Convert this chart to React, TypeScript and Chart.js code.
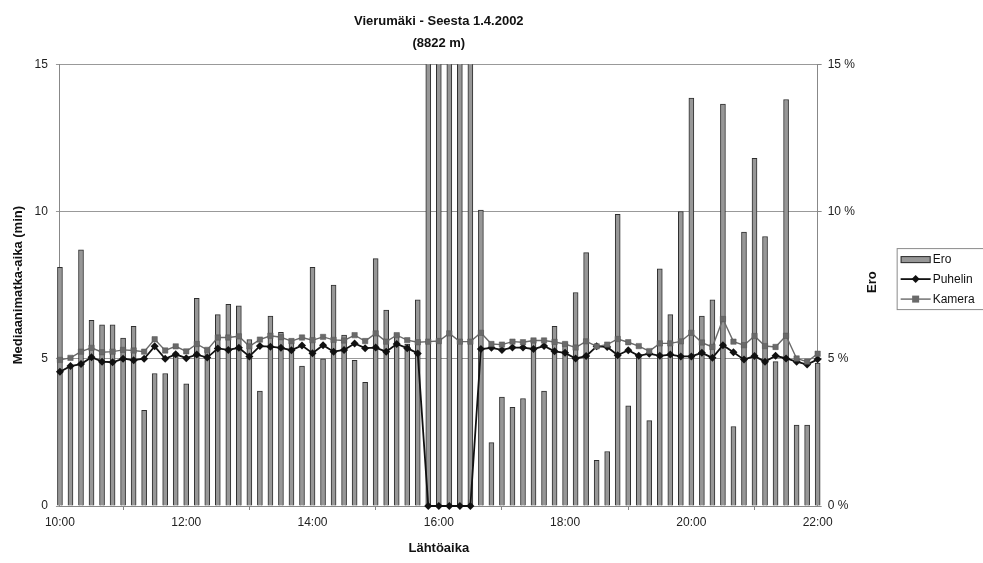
import React, { useEffect, useRef } from 'react';
import { Chart, registerables } from 'chart.js';

Chart.register(...registerables);

const times = [
  '10:00', '10:10', '10:20', '10:30', '10:40', '10:50',
  '11:00', '11:10', '11:20', '11:30', '11:40', '11:50',
  '12:00', '12:10', '12:20', '12:30', '12:40', '12:50',
  '13:00', '13:10', '13:20', '13:30', '13:40', '13:50',
  '14:00', '14:10', '14:20', '14:30', '14:40', '14:50',
  '15:00', '15:10', '15:20', '15:30', '15:40', '15:50',
  '16:00', '16:10', '16:20', '16:30', '16:40', '16:50',
  '17:00', '17:10', '17:20', '17:30', '17:40', '17:50',
  '18:00', '18:10', '18:20', '18:30', '18:40', '18:50',
  '19:00', '19:10', '19:20', '19:30', '19:40', '19:50',
  '20:00', '20:10', '20:20', '20:30', '20:40', '20:50',
  '21:00', '21:10', '21:20', '21:30', '21:40', '21:50',
  '22:00',
];

// Ero (%), right axis
const ero = [
  8.1, 4.75, 8.7, 6.3, 6.15, 6.15, 5.7, 6.1, 3.25, 4.5,
  4.5, 5.2, 4.15, 7.05, 5.3, 6.5, 6.85, 6.8, 5.65, 3.9,
  6.45, 5.9, 5.6, 4.75, 8.1, 5.0, 7.5, 5.8, 4.95, 4.2,
  8.4, 6.65, 5.85, 5.5, 7.0, 100, 100, 100, 100, 100,
  10.05, 2.15, 3.7, 3.35, 3.65, 5.65, 3.9, 6.1, 5.55, 7.25,
  8.6, 1.55, 1.85, 9.9, 3.4, 5.15, 2.9, 8.05, 6.5, 10.0,
  13.85, 6.45, 7.0, 13.65, 2.7, 9.3, 11.8, 9.15, 4.9, 13.8,
  2.75, 2.75, 4.85,
];

// Puhelin (min), left axis
const puhelin = [
  4.56, 4.75, 4.82, 5.05, 4.9, 4.88, 5.0, 4.95, 5.0, 5.42,
  5.0, 5.15, 5.02, 5.14, 5.04, 5.35, 5.3, 5.37, 5.08, 5.43,
  5.41, 5.37, 5.29, 5.45, 5.19, 5.46, 5.24, 5.3, 5.52, 5.36,
  5.38, 5.24, 5.5, 5.36, 5.18, 0, 0, 0, 0, 0,
  5.33, 5.37, 5.3, 5.38, 5.38, 5.33, 5.43, 5.25, 5.2, 5.01,
  5.09, 5.42, 5.4, 5.12, 5.29, 5.1, 5.17, 5.1, 5.14, 5.08,
  5.08, 5.2, 5.03, 5.46, 5.22, 4.97, 5.09, 4.9, 5.1, 5.01,
  4.9, 4.8, 4.98,
];

// Kamera (min), left axis
const kamera = [
  4.96, 5.03, 5.24, 5.37, 5.22, 5.24, 5.3, 5.28, 5.24, 5.66,
  5.28, 5.42, 5.25, 5.5, 5.3, 5.72, 5.72, 5.76, 5.42, 5.65,
  5.78, 5.73, 5.6, 5.72, 5.63, 5.74, 5.64, 5.62, 5.8, 5.6,
  5.86, 5.58, 5.8, 5.63, 5.56, 5.58, 5.6, 5.86, 5.58, 5.58,
  5.88, 5.5, 5.48, 5.58, 5.56, 5.62, 5.62, 5.57, 5.5, 5.38,
  5.59, 5.42, 5.48, 5.67, 5.56, 5.43, 5.26, 5.52, 5.52, 5.59,
  5.88, 5.55, 5.4, 6.35, 5.58, 5.46, 5.77, 5.43, 5.4, 5.78,
  5.01, 4.9, 5.17,
];

const xTickLabels = ['10:00', '12:00', '14:00', '16:00', '18:00', '20:00', '22:00'];
const yTicks = [0, 5, 10, 15];

const FONT = "'Liberation Sans', Arial, sans-serif";
const BAR_FILL = '#979797';
const BAR_EDGE = '#2e2e2e';
const PUH_COLOR = '#111111';
const KAM_COLOR = '#6a6a6a';

const toMin = (t: string) => {
  const [h, m] = t.split(':').map(Number);
  return h * 60 + m;
};

const extrasPlugin = {
  id: 'extras',
  afterDraw(chart: any) {
    const { ctx, chartArea } = chart;
    const { right, top, bottom } = chartArea;
    ctx.save();
    // Right axis title, reading bottom-to-top
    ctx.translate(right + 55, (top + bottom) / 2 - 3);
    ctx.rotate(-Math.PI / 2);
    ctx.font = `bold 13px ${FONT}`;
    ctx.fillStyle = '#111';
    ctx.textAlign = 'center';
    ctx.textBaseline = 'middle';
    ctx.fillText('Ero', 0, 0);
    ctx.restore();

    // Legend
    const lx = right + 79;
    const ly = (top + bottom) / 2 - 37;
    ctx.save();
    ctx.fillStyle = '#fff';
    ctx.fillRect(lx, ly, 100, 62);
    ctx.strokeStyle = '#8a8a8a';
    ctx.lineWidth = 1;
    ctx.strokeRect(lx + 0.5, ly + 0.5, 100, 61);
    ctx.font = `12px ${FONT}`;
    ctx.textBaseline = 'middle';
    ctx.textAlign = 'left';
    const sx = lx + 4;
    const sw = 30;
    // Ero
    const y1 = ly + 11;
    ctx.fillStyle = BAR_FILL;
    ctx.fillRect(sx, y1 - 3, sw, 7);
    ctx.strokeStyle = BAR_EDGE;
    ctx.strokeRect(sx + 0.5, y1 - 2.5, sw - 1, 6);
    ctx.fillStyle = '#111';
    ctx.fillText('Ero', sx + sw + 2, y1 + 1);
    // Puhelin
    const y2 = ly + 31;
    ctx.strokeStyle = PUH_COLOR;
    ctx.lineWidth = 1.8;
    ctx.beginPath();
    ctx.moveTo(sx, y2);
    ctx.lineTo(sx + sw, y2);
    ctx.stroke();
    ctx.fillStyle = PUH_COLOR;
    ctx.beginPath();
    const cx = sx + sw / 2;
    ctx.moveTo(cx, y2 - 4);
    ctx.lineTo(cx + 4, y2);
    ctx.lineTo(cx, y2 + 4);
    ctx.lineTo(cx - 4, y2);
    ctx.closePath();
    ctx.fill();
    ctx.fillStyle = '#111';
    ctx.fillText('Puhelin', sx + sw + 2, y2 + 1);
    // Kamera
    const y3 = ly + 51;
    ctx.strokeStyle = KAM_COLOR;
    ctx.lineWidth = 1.4;
    ctx.beginPath();
    ctx.moveTo(sx, y3);
    ctx.lineTo(sx + sw, y3);
    ctx.stroke();
    ctx.fillStyle = KAM_COLOR;
    ctx.fillRect(cx - 3.5, y3 - 3.5, 7, 7);
    ctx.fillStyle = '#111';
    ctx.fillText('Kamera', sx + sw + 2, y3 + 1);
    ctx.restore();
  },
};

export default function App() {
  const canvasRef = useRef<HTMLCanvasElement | null>(null);

  useEffect(() => {
    document.body.style.margin = '0';
    const canvas = canvasRef.current;
    if (!canvas) return;
    const xs = times.map(toMin);
    const pts = (vals: number[]) => vals.map((v, i) => ({ x: xs[i], y: v }));

    const chart = new Chart(canvas, {
      type: 'bar',
      data: {
        datasets: [
          {
            type: 'line',
            label: 'Kamera',
            data: pts(kamera),
            yAxisID: 'y',
            borderColor: KAM_COLOR,
            borderWidth: 1.4,
            backgroundColor: KAM_COLOR,
            pointStyle: 'rect',
            pointRadius: 3.8,
            pointBackgroundColor: KAM_COLOR,
            pointBorderColor: '#555',
            pointBorderWidth: 0.5,
            tension: 0,
            order: 1,
            clip: 6,
          } as any,
          {
            type: 'line',
            label: 'Puhelin',
            data: pts(puhelin),
            yAxisID: 'y',
            borderColor: PUH_COLOR,
            borderWidth: 1.8,
            backgroundColor: PUH_COLOR,
            pointStyle: 'rectRot',
            pointRadius: 4,
            pointBackgroundColor: PUH_COLOR,
            pointBorderColor: PUH_COLOR,
            pointBorderWidth: 0,
            tension: 0,
            order: 2,
            clip: 6,
          } as any,
          {
            type: 'bar',
            label: 'Ero',
            data: pts(ero),
            yAxisID: 'y1',
            backgroundColor: BAR_FILL,
            borderColor: BAR_EDGE,
            borderWidth: 1,
            barThickness: 5,
            order: 3,
            clip: { left: 5, right: 5, top: 0, bottom: 0 },
          } as any,
        ],
      },
      options: {
        animation: false,
        responsive: false,
        layout: { padding: { top: 10, left: 7, right: 122, bottom: 7 } },
        plugins: {
          legend: { display: false },
          tooltip: { enabled: false },
          title: {
            display: true,
            fullSize: false,
            text: ['Vierumäki - Seesta 1.4.2002', '(8822 m)'],
            color: '#111',
            font: { family: FONT, size: 13, weight: 'bold', lineHeight: 1.7 },
            padding: { top: 0, bottom: 10 },
          },
        },
        scales: {
          x: {
            type: 'linear',
            min: toMin(times[0]),
            max: toMin(times[times.length - 1]),
            offset: false,
            afterBuildTicks: (scale: any) => {
              scale.ticks = xTickLabels.map((t) => ({ value: toMin(t) }));
            },
            ticks: {
              color: '#222',
              font: { family: FONT, size: 12 },
              padding: 5,
              maxRotation: 0,
              callback: (v: any) => {
                const found = xTickLabels.find((t) => toMin(t) === Number(v));
                return found ?? '';
              },
            },
            grid: { display: true, drawOnChartArea: false, tickLength: 4, color: '#888' },
            border: { color: '#888' },
            title: {
              display: true,
              text: 'Lähtöaika',
              color: '#111',
              font: { family: FONT, size: 13, weight: 'bold' },
              padding: { top: 6, bottom: 0 },
            },
          },
          y: {
            position: 'left',
            min: 0,
            max: 15,
            afterBuildTicks: (scale: any) => {
              scale.ticks = yTicks.map((v) => ({ value: v }));
            },
            ticks: {
              color: '#222',
              font: { family: FONT, size: 12 },
              padding: 8,
            },
            grid: { color: '#999', tickLength: 4 },
            border: { color: '#888' },
            title: {
              display: true,
              text: 'Mediaanimatka-aika (min)',
              color: '#111',
              font: { family: FONT, size: 13, weight: 'bold' },
              padding: { top: 4, bottom: 0 },
            },
          },
          y1: {
            position: 'right',
            min: 0,
            max: 15,
            afterBuildTicks: (scale: any) => {
              scale.ticks = yTicks.map((v) => ({ value: v }));
            },
            ticks: {
              color: '#222',
              font: { family: FONT, size: 12 },
              padding: 6,
              callback: (v: any) => `${v} %`,
            },
            grid: { drawOnChartArea: false, tickLength: 4, color: '#888' },
            border: { color: '#888' },
          },
        },
      },
      plugins: [extrasPlugin],
    });
    return () => chart.destroy();
  }, []);

  return (
    <div style={{ width: 983, height: 563, background: '#fff' }}>
      <canvas ref={canvasRef} width={983} height={563} style={{ display: 'block' }} />
    </div>
  );
}
